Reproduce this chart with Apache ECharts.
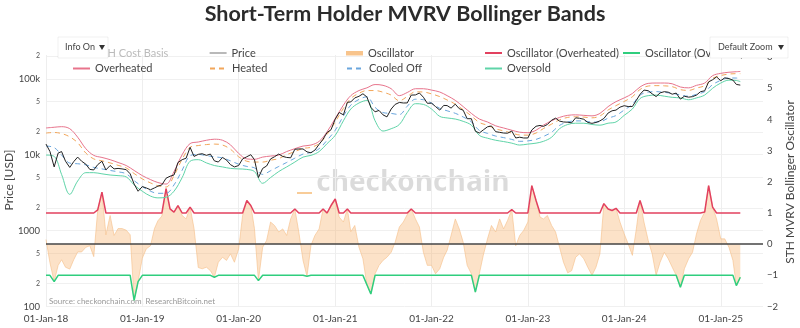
<!DOCTYPE html>
<html><head><meta charset="utf-8">
<script src="https://cdn.jsdelivr.net/npm/echarts@6/dist/echarts.min.js"></script>
<style>html,body{margin:0;padding:0;background:#fff}#c{width:800px;height:328px}</style>
</head><body><div id="c"></div>
<script>
// ---- tick labels ----
const yearTicks = ['2018-01-01','2019-01-01','2020-01-01','2021-01-01','2022-01-01','2023-01-01','2024-01-01','2025-01-01'];
const leftTickValues = [100,200,500,1000,2000,5000,10000,20000,50000,100000,200000];
const rightTickValues = [-2,-1,0,1,2,3,4,5,6];

// ---- semi-monthly series (1st and 16th of each month, Jan-2018 .. mid-Mar-2025) ----
// Price, thousands of USD
const price = [
 13.8,11.0,6.9,10.5,11.0,8.2,6.8,8.1,9.3,8.2,7.5,6.4,6.3,7.4,8.2,6.3,7.2,6.5,6.6,6.5,6.35,5.6,4.1,3.3,
 3.8,3.65,3.45,3.65,3.85,4.0,4.9,5.2,5.4,7.9,8.6,9.0,12.5,9.5,10.1,10.3,9.8,10.2,8.3,8.0,9.2,8.5,7.4,6.9,
 7.2,8.8,9.4,10.0,8.6,5.0,6.6,7.1,8.8,9.4,10.2,9.5,9.2,9.1,11.8,11.9,11.9,10.9,10.6,11.5,13.7,16.0,19.6,21.3,
 29.4,36.0,33.5,49.0,49.6,56.0,58.8,63.5,57.7,42.0,36.7,38.3,33.5,31.5,40.0,46.0,48.8,48.0,48.1,61.0,61.3,65.0,57.2,47.6,
 47.7,43.1,38.7,44.6,44.4,41.1,46.3,40.4,38.5,29.8,29.8,20.4,19.3,21.2,23.3,23.9,20.1,19.7,19.3,19.2,20.5,16.6,17.0,16.6,
 16.6,21.2,23.7,24.3,23.6,25.0,28.5,30.3,27.7,27.0,26.8,26.3,30.6,30.2,29.3,26.6,25.9,26.6,27.9,30.0,35.4,37.9,38.7,42.3,
 44.2,43.1,43.1,52.0,62.4,71.0,69.7,63.4,58.3,65.2,67.7,66.6,62.7,64.8,54.0,58.9,57.3,58.2,61.0,67.6,69.5,91.0,97.2,106.0,
 94.4,103.0,100.6,96.1,84.3,82.6
];
// STH MVRV Bollinger oscillator
const oscillator = [
 0.15,-0.6,-1.2,-0.68,-0.5,-0.74,-0.8,-0.5,-0.25,-0.25,-0.1,-0.05,-0.4,1.1,1.67,0.3,0.92,0.28,0.5,0.5,0.45,0.3,-1.8,-1.2,
 -0.45,-0.15,-0.05,0.5,0.75,0.9,1.78,1.13,1.03,1.24,0.92,0.81,1.19,0.5,-0.75,-0.79,-0.74,-0.85,-1.06,-0.58,-0.42,-0.52,-0.31,-0.58,
 -0.15,0.92,1.4,1.24,0.5,-1.17,-0.1,0.12,0.71,0.6,0.39,0.49,0.28,0.81,1.13,0.39,-0.52,-1.03,-0.04,0.28,0.49,1.13,0.97,1.24,
 1.45,0.87,0.71,1.13,0.4,0.6,-0.1,-0.47,-1.3,-1.6,-0.95,-0.68,-0.52,-0.42,-0.26,0.06,0.55,0.71,0.95,1.13,0.81,0.55,-0.26,-0.68,
 -0.68,-0.95,-0.79,-0.42,-0.2,0.28,0.81,0.49,0.06,-0.68,-0.95,-1.54,-0.95,-0.36,0.17,0.6,0.39,0.81,0.49,0.76,1.11,-0.05,0.28,0.44,
 0.71,1.88,1.4,0.87,0.81,0.92,0.6,0.39,-0.1,-0.58,-0.92,-0.85,-0.42,-0.31,-0.47,-0.74,-1.0,-0.74,-0.31,1.3,1.13,1.08,1.15,0.71,
 0.33,0.01,-0.36,0.49,1.4,0.71,0.12,-0.31,-1.0,-0.58,-0.26,-0.47,-0.74,-1.0,-1.38,-0.79,-0.47,-0.26,0.33,0.76,1.03,1.88,1.19,0.81,
 0.17,0.17,-0.1,-0.52,-1.33,-1.06
];

// ---- monthly bands (1st of month Jan-2018 .. Mar-2025, then mid-Mar-2025), thousands of USD ----
const overheated = [
 22.5,23.0,23.4,22.0,17.0,12.0,9.8,9.2,8.6,7.9,7.2,6.2,
 5.3,4.7,4.3,4.1,6.0,10.0,14.0,14.7,15.5,16.0,15.5,13.5,
 10.4,8.8,8.7,9.3,9.6,9.9,11.0,12.0,13.0,13.4,15.0,20.0,
 30.0,45.0,60.0,70.0,76.0,84.0,82.0,74.0,60.0,66.0,74.0,74.0,
 71.0,67.0,60.0,52.0,43.0,35.0,29.5,27.0,24.0,22.5,21.0,19.8,
 19.5,21.0,24.5,28.0,31.0,33.0,33.5,33.0,32.5,35.0,43.0,50.0,
 56.0,64.0,78.0,87.0,88.0,88.0,86.0,78.0,76.0,82.0,88.0,110.0,
 118.0,122.0,124.0,125.0
];
const heated = [
 19.3,19.6,19.0,17.2,14.4,10.5,8.8,8.3,7.8,7.25,6.7,5.65,
 4.8,4.25,3.9,3.75,5.3,8.75,12.5,13.2,13.6,13.8,13.4,11.8,
 9.4,8.2,8.0,8.0,8.45,8.9,10.0,11.0,12.1,12.5,14.0,18.5,
 27.0,40.8,55.0,64.5,70.0,70.0,66.6,61.0,51.3,58.5,67.3,67.0,
 63.3,58.3,52.6,46.4,39.1,32.4,26.6,24.4,21.9,20.6,19.3,18.2,
 18.1,19.3,22.1,25.3,28.8,31.0,31.6,31.3,30.6,32.4,38.8,44.3,
 50.3,58.0,72.3,80.3,81.3,80.8,78.8,72.0,70.3,75.5,81.3,101.3,
 110.5,115.5,116.8,116.8
];
const cooledOff = [
 13.0,12.4,9.9,7.75,7.6,7.35,6.8,6.5,6.2,5.95,5.6,4.55,
 3.8,3.3,3.1,3.1,4.0,6.25,9.7,10.1,9.7,9.4,9.05,8.3,
 7.5,7.0,6.7,5.5,6.15,7.0,7.9,9.0,10.2,10.7,12.0,15.5,
 21.0,32.3,45.0,53.5,58.0,42.0,35.9,35.0,33.8,43.5,53.8,53.0,
 47.8,40.8,37.9,35.1,31.4,27.1,20.9,19.1,17.6,16.8,15.9,15.0,
 15.2,15.9,17.4,19.8,24.3,27.0,27.9,27.8,26.9,27.1,30.3,32.8,
 38.8,46.0,60.8,66.8,67.8,66.3,64.3,61.5,58.8,62.5,67.8,83.8,
 95.5,102.5,102.3,100.3
];
const oversold = [
 9.9,9.5,5.5,3.0,4.5,5.8,5.8,5.6,5.4,5.3,5.1,4.0,
 3.3,2.85,2.7,2.75,3.3,5.0,8.2,8.6,7.8,7.2,6.9,6.6,
 6.5,6.4,6.0,4.2,5.0,6.0,6.9,8.0,9.3,9.8,11.0,14.0,
 18.0,28.0,40.0,48.0,52.0,28.0,20.5,22.0,25.0,36.0,47.0,46.0,
 40.0,32.0,30.5,29.5,27.5,24.5,18.0,16.5,15.5,14.9,14.2,13.4,
 13.8,14.2,15.0,17.0,22.0,25.0,26.0,26.0,25.0,24.5,26.0,27.0,
 33.0,40.0,55.0,60.0,61.0,59.0,57.0,56.0,53.0,56.0,61.0,75.0,
 88.0,96.0,95.0,92.0
];

// ---- dates ----
const semiDates = [];
for (let i = 0; i < price.length; i++) {
  const m = Math.floor(i / 2);
  semiDates.push(Date.UTC(2018 + Math.floor(m / 12), m % 12, i % 2 ? 16 : 1));
}
const bandDates = [];
for (let k = 0; k < overheated.length - 1; k++) bandDates.push(Date.UTC(2018 + Math.floor(k / 12), k % 12, 1));
bandDates.push(Date.UTC(2025, 2, 16));

const LOG = v => Math.log10(v * 1000);
const zipLog = (d, v) => v.map((x, i) => [d[i], LOG(x)]);
const zip = (d, v) => v.map((x, i) => [d[i], x]);
const MON = ['Jan','Feb','Mar','Apr','May','Jun','Jul','Aug','Sep','Oct','Nov','Dec'];
const FONT = 'Lato, "Open Sans", sans-serif';
const yearMs = yearTicks.map(s => Date.parse(s + 'T00:00:00Z'));

const chart = echarts.init(document.getElementById('c'), null, {renderer: 'canvas'});

function lg(name, left, top, extra) {
  return Object.assign({
    left: left, top: top, orient: 'horizontal', padding: 0,
    itemWidth: 17, itemHeight: 10, inactiveColor: '#bbb',
    itemStyle: {opacity: 0},
    textStyle: {fontFamily: FONT, fontSize: 11, color: '#444'},
    data: [name]
  }, extra || {});
}
const R1 = 47.5, R2 = 63;

const option = {
  animation: false,
  backgroundColor: '#fff',
  grid: {left: 46, right: 37, top: 55, bottom: 21.5, containLabel: false},
  xAxis: {
    type: 'value',
    min: Date.UTC(2018, 0, 1), max: Date.UTC(2025, 5, 10),
    axisLine: {show: false},
    axisTick: {show: false, customValues: yearMs},
    axisLabel: {
      customValues: yearMs, margin: 7, fontFamily: FONT, fontSize: 10, color: '#444',
      formatter: v => { const d = new Date(v); return String(d.getUTCDate()).padStart(2,'0') + '-' + MON[d.getUTCMonth()] + '-' + String(d.getUTCFullYear()).slice(2); }
    },
    splitLine: {show: true, lineStyle: {color: '#eeeeee', width: 1}}
  },
  yAxis: [
    {
      type: 'value', position: 'left', min: 2, max: 5.3136,
      axisLine: {show: false},
      axisTick: {show: false, customValues: leftTickValues.map(Math.log10)},
      axisLabel: {
        customValues: leftTickValues.map(Math.log10), margin: 6, fontFamily: FONT,
        formatter: v => {
          const p = Math.round(Math.pow(10, v));
          const e = Math.floor(Math.log10(p) + 1e-9);
          const lead = Math.round(p / Math.pow(10, e));
          if (lead === 1) return '{b|' + (p >= 10000 ? (p / 1000) + 'k' : p) + '}';
          return '{s|' + lead + '}';
        },
        rich: {b: {fontSize: 9.5, color: '#444', fontFamily: FONT}, s: {fontSize: 7, color: '#555', fontFamily: FONT}}
      },
      splitLine: {show: true, lineStyle: {color: '#f0f0f0', width: 1}}
    },
    {
      type: 'value', position: 'right', min: -2, max: 6.07,
      axisLine: {show: false},
      axisTick: {show: false, customValues: rightTickValues},
      axisLabel: {customValues: rightTickValues, margin: 4, fontFamily: FONT, fontSize: 9.5, color: '#444',
        formatter: v => (v < 0 ? '\u2212' + Math.abs(v) : String(v))},
      splitLine: {show: false}
    }
  ],
  legend: [
    lg('STH Cost Basis', 72, R1, {selected: {'STH Cost Basis': false}}),
    lg('Price', 209, R1, {lineStyle: {color: '#8a8a8a', width: 1.2}}),
    lg('Oscillator', 346, R1, {itemStyle: {}, itemHeight: 10,
      data: [{name: 'Oscillator', icon: 'path://M0,0 M0,3h17v4.5h-17z M17,10', itemStyle: {color: '#f8c48c'}}]}),
    lg('Oscillator (Overheated)', 484, R1),
    lg('Oscillator (Oversold)', 622, R1),
    lg('Overheated', 72, R2),
    lg('Heated', 209, R2),
    lg('Cooled Off', 346, R2),
    lg('Oversold', 484, R2)
  ],
  series: [
    {
      name: 'Oscillator', type: 'line', yAxisIndex: 1, data: zip(semiDates, oscillator),
      symbol: 'none', z: 1,
      lineStyle: {width: 0.6, color: '#f5bd86'},
      itemStyle: {color: '#f8c48c'},
      areaStyle: {color: 'rgba(247,172,100,0.5)', origin: 0},
      markLine: {silent: true, symbol: ['none','none'], label: {show: false},
        lineStyle: {color: '#444', width: 1.5, type: 'solid'}, data: [{yAxis: 0}]}
    },
    {
      name: 'Oscillator (Overheated)', type: 'line', yAxisIndex: 1,
      data: zip(semiDates, oscillator.map(v => Math.max(v, 1))),
      symbol: 'none', z: 3, lineStyle: {width: 1.5, color: '#e2415f'}, itemStyle: {color: '#e2415f'}
    },
    {
      name: 'Oscillator (Oversold)', type: 'line', yAxisIndex: 1,
      data: zip(semiDates, oscillator.map(v => Math.min(v, -1))),
      symbol: 'none', z: 3, lineStyle: {width: 1.5, color: '#2fce7e'}, itemStyle: {color: '#2fce7e'}
    },
    {name: 'STH Cost Basis', type: 'line', yAxisIndex: 0, data: [], symbol: 'none',
      lineStyle: {width: 1, color: '#999'}, itemStyle: {color: '#999'}},
    {name: 'Overheated', type: 'line', yAxisIndex: 0, data: zipLog(bandDates, overheated), symbol: 'none', smooth: 0.35, z: 4,
      lineStyle: {width: 1, color: '#e8748c'}, itemStyle: {color: '#e8748c'}},
    {name: 'Heated', type: 'line', yAxisIndex: 0, data: zipLog(bandDates, heated), symbol: 'none', smooth: 0.35, z: 4,
      lineStyle: {width: 1, color: '#f2a65a', type: [5, 4]}, itemStyle: {color: '#f2a65a'}},
    {name: 'Cooled Off', type: 'line', yAxisIndex: 0, data: zipLog(bandDates, cooledOff), symbol: 'none', smooth: 0.35, z: 4,
      lineStyle: {width: 1, color: '#6aa6dd', type: [5, 4]}, itemStyle: {color: '#6aa6dd'}},
    {name: 'Oversold', type: 'line', yAxisIndex: 0, data: zipLog(bandDates, oversold), symbol: 'none', smooth: 0.35, z: 4,
      lineStyle: {width: 1, color: '#5fd4a8'}, itemStyle: {color: '#5fd4a8'}},
    {name: 'Price', type: 'line', yAxisIndex: 0, data: zipLog(semiDates, price), symbol: 'none', z: 5,
      lineStyle: {width: 1, color: '#222'}, itemStyle: {color: '#222'}}
  ],
  graphic: [
    {type: 'text', z: 0, x: 413, y: 183, style: {text: 'checkonchain', fontFamily: '"Open Sans", sans-serif', fontWeight: 'bold', fontSize: 28, fill: 'rgba(0,0,0,0.14)', textAlign: 'center', textVerticalAlign: 'middle'}},
    {type: 'text', x: 405, y: 14, style: {text: 'Short-Term Holder MVRV Bollinger Bands', fontFamily: FONT, fontWeight: 'bold', fontSize: 21.5, fill: '#2b2b2b', textAlign: 'center', textVerticalAlign: 'middle'}},
    {type: 'text', x: 9, y: 180, rotation: Math.PI / 2, style: {text: 'Price [USD]', fontFamily: FONT, fontSize: 12, fill: '#444', textAlign: 'center', textVerticalAlign: 'middle'}},
    {type: 'text', x: 790, y: 182, rotation: Math.PI / 2, style: {text: 'STH MVRV Bollinger Oscillator', fontFamily: FONT, fontSize: 12, fill: '#444', textAlign: 'center', textVerticalAlign: 'middle'}},
    {type: 'text', x: 49, y: 301, style: {text: 'Source: checkonchain.com, ResearchBitcoin.net', fontFamily: FONT, fontSize: 8, fill: '#999', textVerticalAlign: 'middle'}},
    {type: 'line', shape: {x1: 297, y1: 193, x2: 312, y2: 193}, style: {stroke: '#f8cc98', lineWidth: 2}},
    {type: 'rect', z: 100, shape: {x: 58, y: 37, width: 50, height: 21}, style: {fill: '#fff', stroke: 'rgba(0,0,0,0.06)'}},
    {type: 'text', z: 101, x: 65, y: 47.5, style: {text: 'Info On', fontFamily: FONT, fontSize: 9, fill: '#444', textVerticalAlign: 'middle'}},
    {type: 'polygon', z: 101, shape: {points: [[99, 45], [105, 45], [102, 50]]}, style: {fill: '#333'}},
    {type: 'rect', z: 100, shape: {x: 710, y: 37, width: 78, height: 21}, style: {fill: '#fff', stroke: 'rgba(0,0,0,0.06)'}},
    {type: 'text', z: 101, x: 718, y: 47.5, style: {text: 'Default Zoom', fontFamily: FONT, fontSize: 9, fill: '#444', textVerticalAlign: 'middle'}},
    {type: 'polygon', z: 101, shape: {points: [[778, 45], [784, 45], [781, 50]]}, style: {fill: '#333'}}
  ]
};
chart.setOption(option);
</script>
</body></html>
